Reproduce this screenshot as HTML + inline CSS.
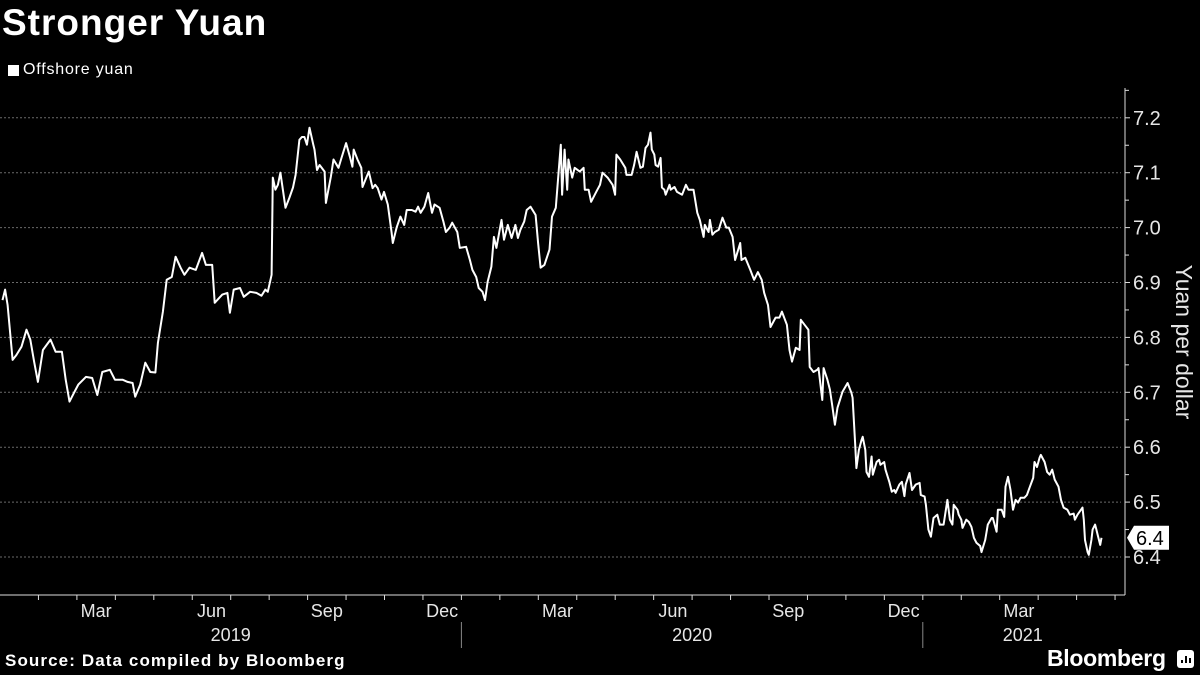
<!DOCTYPE html>
<html><head><meta charset="utf-8">
<style>
html,body{margin:0;padding:0;background:#000;}
body{width:1200px;height:675px;overflow:hidden;position:relative;font-family:"Liberation Sans",sans-serif;color:#fff;}
#title{position:absolute;left:2px;top:2px;font-size:37px;font-weight:bold;letter-spacing:1px;}
#legend{position:absolute;left:8px;top:61px;font-size:16px;letter-spacing:0.8px;display:flex;align-items:center;}
#legend .sw{width:11px;height:11px;background:#fff;margin-right:4px;}
#source{position:absolute;left:5px;top:651px;font-size:17px;font-weight:bold;letter-spacing:1.1px;}
#brand{position:absolute;left:1047px;top:645px;font-size:23px;font-weight:bold;letter-spacing:-0.3px;}
svg{position:absolute;left:0;top:0;}
</style></head>
<body>
<div id="title">Stronger Yuan</div>
<div id="legend"><div class="sw"></div><span>Offshore yuan</span></div>
<div id="source">Source: Data compiled by Bloomberg</div>
<div id="brand">Bloomberg</div>
<svg id="chart" width="1200" height="675"></svg>
<script>
const days = [2,4,6,10,13,17,21,24,27,30,34,40,44,49,52,55,59,62,68,73,77,81,87,91,97,101,105,107,111,115,119,123,125,129,132,136,139,143,146,150,155,160,163,168,170,176,180,182,185,190,193,198,203,207,210,212,215,216,218,220,222,226,229,232,234,237,239,241,243,245,248,249,251,253,257,258,260,262,264,268,270,274,277,279,280,283,286,287,290,292,295,297,299,302,304,307,310,311,314,317,320,322,326,329,331,333,336,339,342,344,348,351,353,356,358,362,364,369,372,374,377,379,382,384,386,389,391,393,397,399,402,405,408,410,412,415,417,420,424,426,428,431,435,437,440,443,444,445,447,449,450,453,455,459,462,463,466,468,472,475,477,481,485,487,488,491,495,496,500,502,504,507,509,511,513,515,516,518,519,521,523,524,526,527,530,531,534,536,540,543,545,549,552,554,557,558,561,562,564,566,569,572,575,577,580,582,586,587,590,594,597,600,603,605,608,610,614,617,619,623,625,627,630,633,634,637,640,641,644,647,648,651,652,655,657,659,661,663,667,671,674,675,677,678,680,682,683,685,686,688,690,691,694,696,697,700,701,704,706,708,709,712,714,716,717,720,722,725,728,729,732,733,735,737,739,742,744,747,750,752,754,755,758,759,761,762,765,767,769,771,773,776,777,780,782,785,786,789,790,793,795,796,798,800,802,804,806,808,811,813,815,818,819,821,823,824,827,829,831,833,835,838,840,842,845,847,850,851,853,857,858,859,861,862,864,865,867,868,869,871,872];
const values = [6.868,6.887,6.859,6.759,6.768,6.783,6.814,6.796,6.756,6.719,6.777,6.796,6.774,6.774,6.723,6.683,6.701,6.714,6.728,6.726,6.695,6.737,6.741,6.723,6.723,6.719,6.717,6.692,6.714,6.754,6.737,6.736,6.790,6.847,6.905,6.910,6.947,6.927,6.914,6.927,6.923,6.954,6.932,6.932,6.863,6.878,6.881,6.845,6.887,6.890,6.874,6.883,6.881,6.876,6.887,6.883,6.914,7.091,7.069,7.078,7.100,7.036,7.054,7.073,7.096,7.160,7.165,7.165,7.151,7.182,7.151,7.142,7.105,7.114,7.102,7.045,7.069,7.093,7.124,7.109,7.124,7.154,7.129,7.111,7.142,7.124,7.109,7.074,7.091,7.102,7.072,7.078,7.072,7.051,7.065,7.042,6.991,6.972,7.000,7.020,7.005,7.032,7.032,7.029,7.038,7.027,7.038,7.063,7.027,7.042,7.036,7.011,6.992,7.000,7.009,6.992,6.963,6.965,6.941,6.923,6.910,6.890,6.883,6.868,6.901,6.929,6.983,6.963,7.014,6.978,7.005,6.981,7.005,6.981,6.996,7.011,7.032,7.038,7.023,6.972,6.927,6.932,6.960,7.020,7.036,7.124,7.151,7.060,7.142,7.069,7.124,7.091,7.109,7.102,7.109,7.069,7.069,7.047,7.065,7.078,7.100,7.091,7.078,7.060,7.133,7.124,7.109,7.096,7.096,7.114,7.138,7.109,7.111,7.145,7.151,7.173,7.142,7.133,7.114,7.111,7.127,7.073,7.069,7.060,7.078,7.069,7.074,7.065,7.060,7.078,7.069,7.069,7.027,7.014,6.983,7.005,6.992,7.014,6.987,6.992,6.996,7.018,7.000,7.000,6.983,6.941,6.972,6.941,6.945,6.923,6.905,6.919,6.905,6.881,6.859,6.819,6.836,6.836,6.847,6.823,6.777,6.756,6.781,6.777,6.832,6.823,6.814,6.746,6.737,6.741,6.744,6.686,6.744,6.723,6.705,6.674,6.641,6.672,6.701,6.717,6.699,6.690,6.608,6.562,6.595,6.613,6.619,6.595,6.555,6.546,6.583,6.550,6.573,6.577,6.568,6.573,6.559,6.537,6.519,6.522,6.517,6.532,6.537,6.511,6.532,6.553,6.522,6.532,6.535,6.513,6.510,6.495,6.450,6.437,6.471,6.477,6.459,6.459,6.504,6.468,6.459,6.495,6.486,6.477,6.468,6.453,6.468,6.464,6.455,6.435,6.426,6.420,6.409,6.431,6.459,6.471,6.471,6.446,6.486,6.486,6.473,6.528,6.546,6.522,6.486,6.504,6.499,6.508,6.508,6.513,6.526,6.544,6.573,6.564,6.581,6.586,6.573,6.555,6.550,6.559,6.541,6.528,6.504,6.490,6.486,6.477,6.479,6.468,6.477,6.490,6.468,6.431,6.409,6.404,6.431,6.450,6.459,6.450,6.440,6.422,6.435];
const yTicks = [6.4,6.5,6.6,6.7,6.8,6.9,7.0,7.1,7.2];
const yTickLabels = ["6.4","6.5","6.6","6.7","6.8","6.9","7.0","7.1","7.2"];
const monthLabels = ["Mar","Jun","Sep","Dec","Mar","Jun","Sep","Dec","Mar"];
const monthLabelIdx = [2,5,8,11,14,17,20,23,26];
const yearLabels = ["2019","2020","2021"];
const yearLabelPos = [6,18,26.6];
const lastLabel = "6.4";

const NS="http://www.w3.org/2000/svg";
const svg=document.getElementById('chart');
const PX_PER_DAY=38.45/30.44;
const xDay=d=>d*PX_PER_DAY;
const xMonth=m=>m*38.45;
const Y0=557,PX_PER_UNIT=549;
const y=v=>Y0-(v-6.4)*PX_PER_UNIT;
const AXX=1125, AXB=595;
function mk(tag,attrs){const e=document.createElementNS(NS,tag);for(const k in attrs)e.setAttribute(k,attrs[k]);svg.appendChild(e);return e;}

yTicks.forEach((t,i)=>{
  const g=mk('line',{x1:0,x2:AXX-4,y1:y(t),y2:y(t),stroke:'#6a6a6a','stroke-width':1,'stroke-dasharray':'2,2'});
  
  
  const tk=mk('line',{x1:AXX,x2:AXX+5,y1:y(t),y2:y(t),stroke:'#ddd'});
  
  
  const mn=mk('line',{x1:AXX,x2:AXX+4,y1:y(t+0.05),y2:y(t+0.05),stroke:'#ddd'});
  
  
  const tx=mk('text',{x:AXX+8,y:y(t)+7,fill:'#e6e6e6','font-size':20,'font-family':'Liberation Sans, sans-serif'});
  tx.textContent=yTickLabels[i];
  
  
});
const ya=mk('line',{x1:AXX,x2:AXX,y1:88,y2:AXB,stroke:'#ddd'});


const yt=mk('text',{x:0,y:0,fill:'#e6e6e6','font-size':23,'text-anchor':'middle',transform:'translate(1176,342) rotate(90)','font-family':'Liberation Sans, sans-serif'});
yt.textContent='Yuan per dollar';



const xa=mk('line',{x1:0,x2:AXX,y1:AXB,y2:AXB,stroke:'#ddd'});


for(let m=1;m<=29;m++){
  if(xMonth(m)>AXX)break;
  const t=mk('line',{x1:xMonth(m),x2:xMonth(m),y1:AXB,y2:AXB+5,stroke:'#ddd'});
  
  
}
monthLabels.forEach((l,i)=>{
  const t=mk('text',{x:xMonth(monthLabelIdx[i]+0.5),y:617,fill:'#e6e6e6','font-size':18,'text-anchor':'middle','font-family':'Liberation Sans, sans-serif'});
  t.textContent=l;
  
  
});
yearLabels.forEach((l,i)=>{
  const t=mk('text',{x:xMonth(yearLabelPos[i]),y:641,fill:'#e6e6e6','font-size':18,'text-anchor':'middle','font-family':'Liberation Sans, sans-serif'});
  t.textContent=l;
  
  
  if(i>0){
    const s=mk('line',{x1:xMonth(12*i),x2:xMonth(12*i),y1:622,y2:648,stroke:'#888'});
    
    
  }
});

let d='';
days.forEach((dd,i)=>{d+=(i?'L':'M')+xDay(dd).toFixed(1)+','+y(values[i]).toFixed(1);});
const p=mk('path',{d:d,fill:'none',stroke:'#fff','stroke-width':2,'stroke-linejoin':'round'});



const lv=values[values.length-1], ly=y(lv);
const tag=mk('path',{d:`M${AXX+2},${ly} L${AXX+9},${ly-12} H${AXX+44} V${ly+12} H${AXX+9} Z`,fill:'#fff'});


const tt=mk('text',{x:AXX+11,y:ly+7,fill:'#000','font-size':20,'font-family':'Liberation Sans, sans-serif'});
tt.textContent=lastLabel;



const ic=mk('rect',{x:1177,y:650,width:17,height:18,rx:3,fill:'#fff'});


[[1181,660,3],[1185,656,7],[1189,658,5]].forEach(b=>{
  const r=mk('rect',{x:b[0],y:b[1],width:2,height:b[2],fill:'#000'});
  
  
});
</script>
</body></html>
